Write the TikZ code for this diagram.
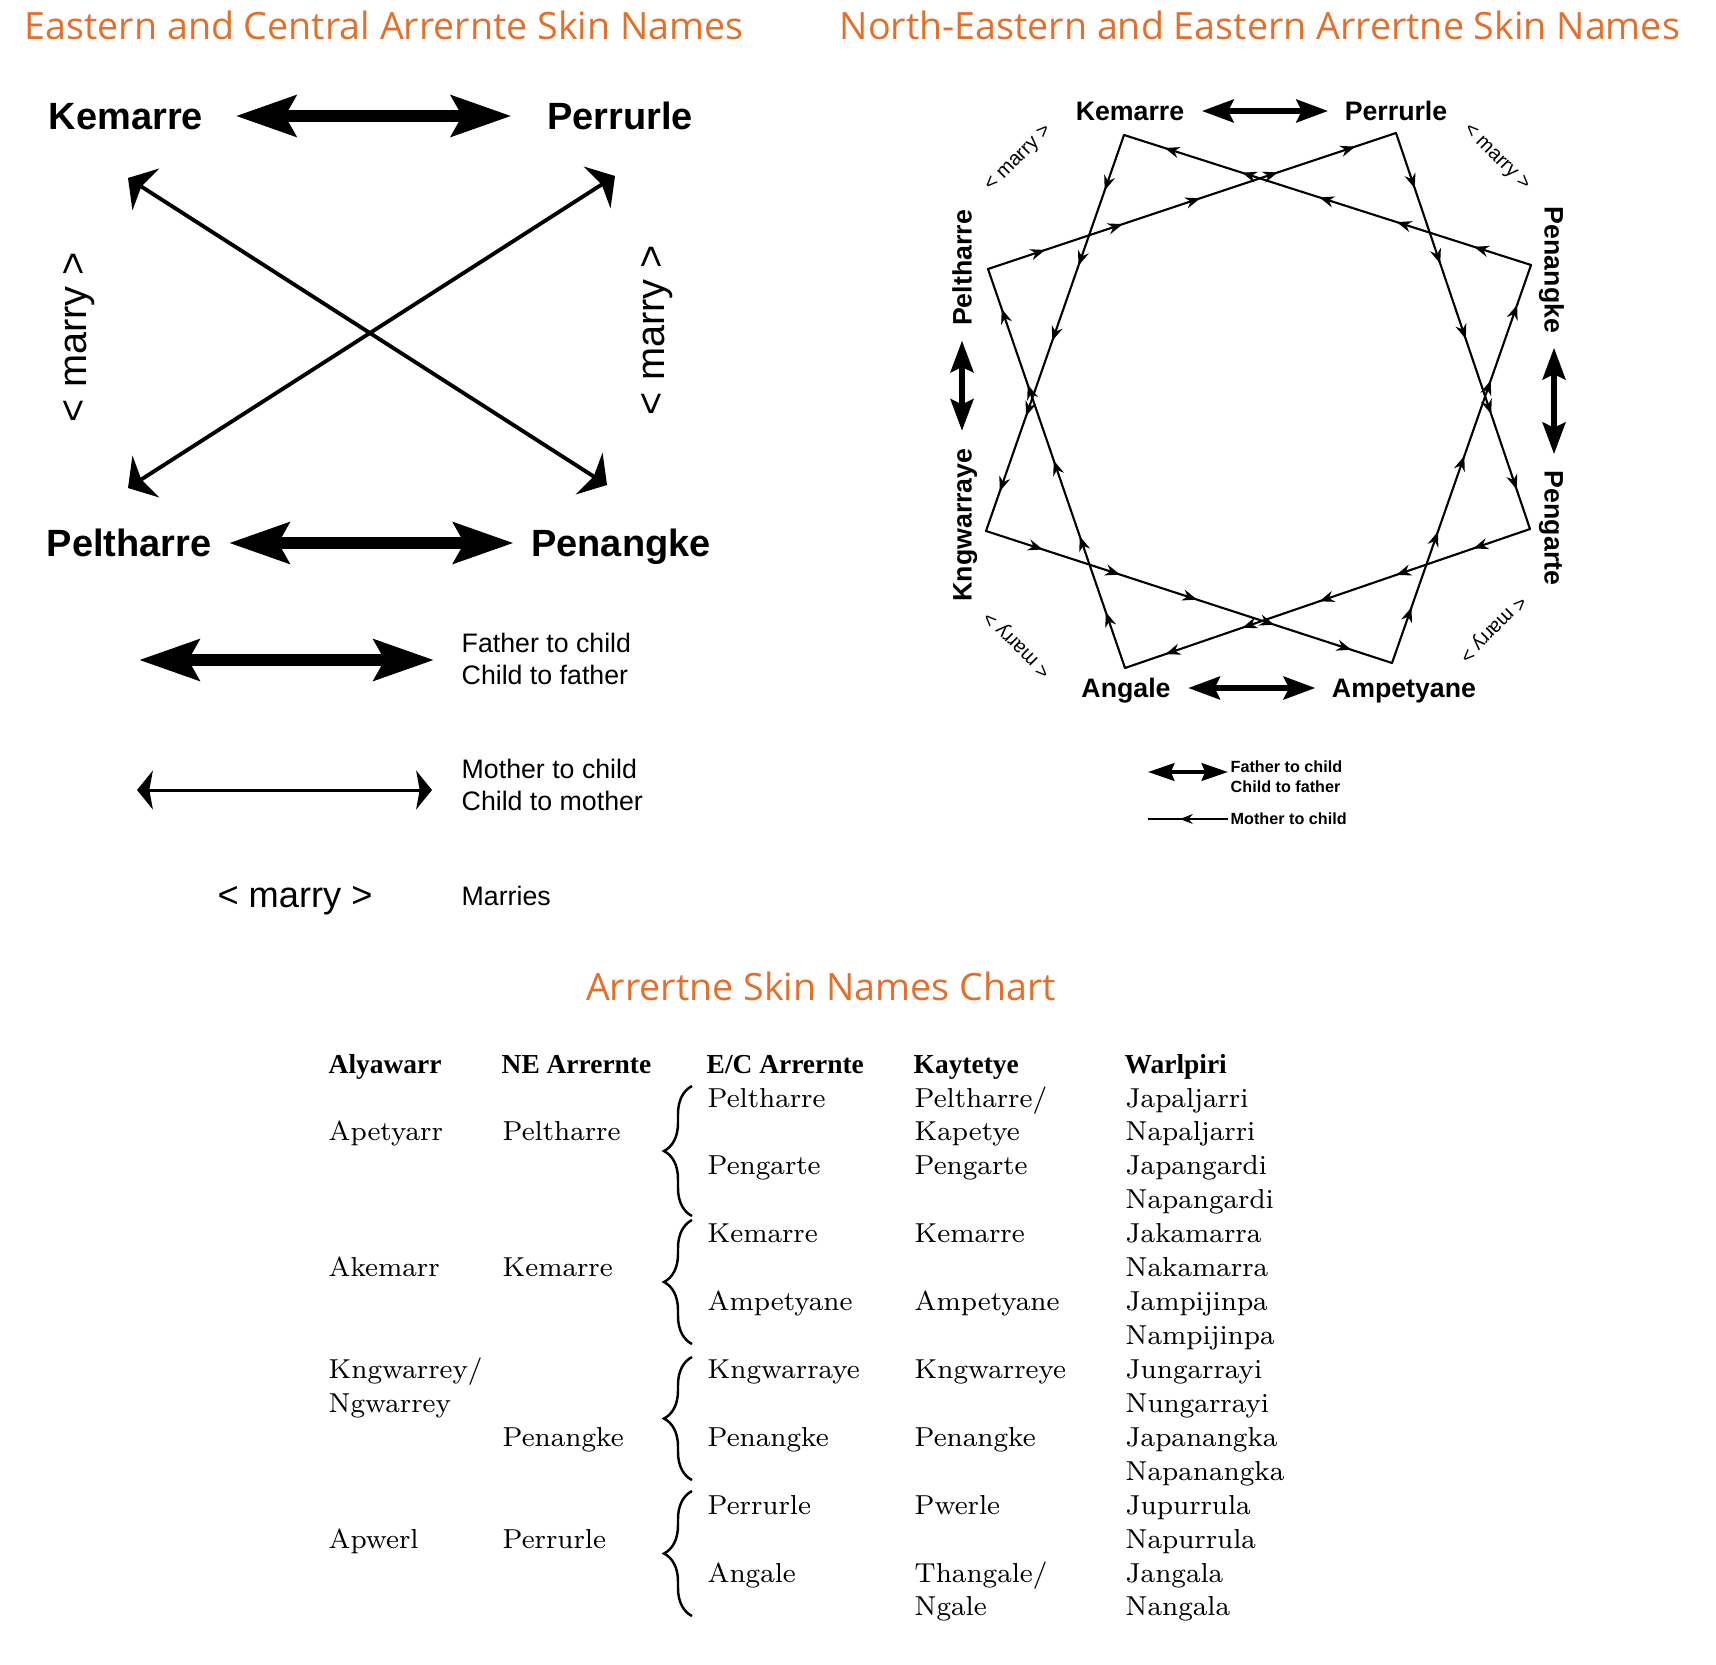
\documentclass[tikz,border=0pt]{standalone}
\usepackage{fontspec}
\usepackage{tikz}
\usetikzlibrary{arrows.meta, positioning, decorations.pathreplacing, decorations.markings}
\newfontfamily\titlefont{Open Sans}
\newfontfamily\scanfont{Liberation Sans}
\newfontfamily\headfont{Liberation Serif}
\definecolor{titleorange}{HTML}{E2702C}

\begin{document}
\begin{tikzpicture}[
    x=0.01cm, y=-0.01cm,
    heading/.style={font=\titlefont\fontsize{10.7}{12}\selectfont, text=titleorange, inner sep=0pt},
    skinbig/.style={font=\scanfont\bfseries\fontsize{10.8}{12}\selectfont, inner sep=0pt, text height=7.7pt, text depth=0pt},
    skinsmall/.style={font=\scanfont\bfseries\fontsize{7.6}{9}\selectfont, inner sep=0pt, text height=5.4pt, text depth=0pt},
    marrybig/.style={font=\scanfont\fontsize{11.3}{13}\selectfont, inner sep=0pt},
    marrysmall/.style={font=\scanfont\fontsize{5.7}{7}\selectfont, inner sep=0pt},
    keytext/.style={font=\scanfont\fontsize{7.6}{9.1}\selectfont, align=left, anchor=west, inner sep=0pt},
    keytiny/.style={font=\scanfont\bfseries\fontsize{4.6}{5.7}\selectfont, align=left, anchor=west, inner sep=0pt},
    fatarrow/.style={line width=3.3pt, {Stealth[length=17pt, width=11.5pt, inset=3pt]}-{Stealth[length=17pt, width=11.5pt, inset=3pt]}},
    crossarrow/.style={line width=1.1pt, {Stealth[length=6pt, width=14pt, inset=1.5pt]}-{Stealth[length=6pt, width=14pt, inset=1.5pt]}},
    momarrow/.style={line width=0.85pt, {Stealth[length=4.5pt, width=11pt, inset=1pt]}-{Stealth[length=4.5pt, width=11pt, inset=1pt]}},
    midfat/.style={line width=1.5pt, {Stealth[length=9pt, width=6.5pt, inset=1.5pt]}-{Stealth[length=9pt, width=6.5pt, inset=1.5pt]}},
    keyfat/.style={line width=1.1pt, {Stealth[length=7.5pt, width=5pt, inset=1pt]}-{Stealth[length=7.5pt, width=5pt, inset=1pt]}},
    momline/.style={line width=0.6pt, line cap=round, postaction={decorate}, decoration={markings,
        mark=between positions 0.14 and 0.91 step 0.19 with {\arrow{Stealth[length=4.2pt, width=3.2pt]}}}},
    keymom/.style={line width=0.6pt, postaction={decorate}, decoration={markings,
        mark=at position 0.6 with {\arrow{Stealth[length=3.6pt, width=2.8pt]}}}},
    cell/.style={anchor=base west, inner sep=0pt, font=\fontsize{7.8}{9}\selectfont},
    colhead/.style={anchor=base west, inner sep=0pt, font=\headfont\bfseries\fontsize{7.8}{9}\selectfont},
    skinbrace/.style={decorate, decoration={brace, amplitude=0.28cm}, line width=0.7pt},
]
    \fill[white] (0,0) rectangle (1716,1664);
    \useasboundingbox (0,0) rectangle (1716,1664);

    % Titles
    \node[heading, anchor=base west] (titleEC) at (24,40) {Eastern and Central Arrernte Skin Names};
    \node[heading, anchor=base west] (titleNE) at (839,40) {North-Eastern and Eastern Arrertne Skin Names};
    \node[heading, anchor=base] (titleChart) at (821,1000) {Arrertne Skin Names Chart};

    % Eastern and Central diagram
    \node[skinbig] (kemL) at (126,116) {Kemarre};
    \node[skinbig] (perL) at (620,116) {Perrurle};
    \node[skinbig] (pelL) at (129,543) {Peltharre};
    \node[skinbig] (penL) at (621,543) {Penangke};
    \draw[fatarrow, shorten <=0.32cm, shorten >=0.35cm] (kemL) -- (perL);
    \draw[fatarrow, shorten <=0.17cm, shorten >=0.17cm] (pelL) -- (penL);

    \coordinate (tipKem) at (128,178);
    \coordinate (tipPen) at (607,485);
    \coordinate (tipPer) at (615,176);
    \coordinate (tipPel) at (128,488);
    \draw[crossarrow] (tipKem) -- (tipPen);
    \draw[crossarrow] (tipPer) -- (tipPel);

    \node[marrybig, rotate=90] (marryW) at (79,337) {< marry >};
    \node[marrybig, rotate=90] (marryE) at (657,330) {< marry >};

    % Key
    \coordinate (fatKeyA) at (139,660);
    \coordinate (fatKeyB) at (434,660);
    \draw[fatarrow] (fatKeyA) -- (fatKeyB);
    \node[keytext] (fatKey) at (461,659) {Father to child\\Child to father};
    \coordinate (momKeyA) at (137,790);
    \coordinate (momKeyB) at (432,790);
    \draw[momarrow] (momKeyA) -- (momKeyB);
    \node[keytext] (momKey) at (461,785) {Mother to child\\Child to mother};
    \node[font=\scanfont\fontsize{10.3}{12}\selectfont, inner sep=0pt] (marryKey) at (295,901) {< marry >};
    \node[keytext] (marriesKey) at (461,896) {Marries};

    % North-Eastern and Eastern diagram
    \node[skinsmall] (kemR) at (1130,111) {Kemarre};
    \node[skinsmall] (perR) at (1396,111) {Perrurle};
    \node[skinsmall] (angR) at (1126,688) {Angale};
    \node[skinsmall] (ampR) at (1404,688) {Ampetyane};
    \node[skinsmall, rotate=90] (pelR) at (962,268) {Peltharre};
    \node[skinsmall, rotate=90] (kngR) at (962,525) {Kngwarraye};
    \node[skinsmall, rotate=-90] (penR) at (1554,270) {Penangke};
    \node[skinsmall, rotate=-90] (pgtR) at (1554,528) {Pengarte};
    \draw[midfat, shorten <=0.17cm, shorten >=0.16cm] (kemR) -- (perR);
    \draw[midfat, shorten <=0.17cm, shorten >=0.16cm] (angR) -- (ampR);
    \draw[midfat, shorten <=0.14cm, shorten >=0.17cm] (pelR) -- (kngR);
    \draw[midfat, shorten <=0.14cm, shorten >=0.16cm] (penR) -- (pgtR);

    \node[marrysmall, rotate=45] (marryNW) at (1019,159) {< marry >};
    \node[marrysmall, rotate=-45] (marryNE) at (1496,158) {< marry >};
    \node[marrysmall, rotate=135] (marrySW) at (1018,644) {< marry >};
    \node[marrysmall, rotate=-135] (marrySE) at (1492,628) {< marry >};

    \coordinate (kemV) at (1124,135);
    \coordinate (perV) at (1396,133);
    \coordinate (penV) at (1531,265);
    \coordinate (pgtV) at (1530,529);
    \coordinate (ampV) at (1392,663);
    \coordinate (angV) at (1125,668);
    \coordinate (kngV) at (986,531);
    \coordinate (pelV) at (988,269);
    % mother to child, two cycles
    \draw[momline] (kemV) -- (kngV);
    \draw[momline] (kngV) -- (ampV);
    \draw[momline] (ampV) -- (penV);
    \draw[momline] (penV) -- (kemV);
    \draw[momline] (perV) -- (pgtV);
    \draw[momline] (pgtV) -- (angV);
    \draw[momline] (angV) -- (pelV);
    \draw[momline] (pelV) -- (perV);

    % Small key
    \coordinate (fatTinyA) at (1148,772);
    \coordinate (fatTinyB) at (1228,772);
    \draw[keyfat] (fatTinyA) -- (fatTinyB);
    \node[keytiny] (fatTiny) at (1230,777) {Father to child\\Child to father};
    \coordinate (momTinyA) at (1228,819);
    \coordinate (momTinyB) at (1148,819);
    \draw[keymom] (momTinyA) -- (momTinyB);
    \node[keytiny] (momTiny) at (1230,819) {Mother to child};

    % Chart
    \node[colhead] (hdAly) at (328,1073) {Alyawarr};
    \node[colhead] (hdNE) at (501,1073) {NE Arrernte};
    \node[colhead] (hdEC) at (706,1073) {E/C Arrernte};
    \node[colhead] (hdKay) at (913,1073) {Kaytetye};
    \node[colhead] (hdWal) at (1124,1073) {Warlpiri};

    \foreach \r/\nm in {1/Apetyarr, 5/Akemarr, 8/Kngwarrey\slash, 9/Ngwarrey, 13/Apwerl}
        \node[cell] (aly\r) at (328,1107+33.93*\r) {\nm};
    \foreach \r/\nm in {1/Peltharre, 5/Kemarre, 10/Penangke, 13/Perrurle}
        \node[cell] (ne\r) at (502,1107+33.93*\r) {\nm};
    \foreach \r/\nm in {0/Peltharre, 2/Pengarte, 4/Kemarre, 6/Ampetyane, 8/Kngwarraye, 10/Penangke, 12/Perrurle, 14/Angale}
        \node[cell] (ec\r) at (707,1107+33.93*\r) {\nm};
    \foreach \r/\nm in {0/Peltharre\slash, 1/Kapetye, 2/Pengarte, 4/Kemarre, 6/Ampetyane, 8/Kngwarreye, 10/Penangke, 12/Pwerle, 14/Thangale\slash, 15/Ngale}
        \node[cell] (kay\r) at (914,1107+33.93*\r) {\nm};
    \foreach \nm [count=\r from 0] in {Japaljarri, Napaljarri, Japangardi, Napangardi, Jakamarra, Nakamarra, Jampijinpa, Nampijinpa, Jungarrayi, Nungarrayi, Japanangka, Napanangka, Jupurrula, Napurrula, Jangala, Nangala}
        \node[cell] (wal\r) at (1125,1107+33.93*\r) {\nm};

    \foreach \top/\bot in {1086/1216, 1220/1344, 1357/1480, 1491/1616}
        \draw[skinbrace] (692,\bot) -- (692,\top);
\end{tikzpicture}
\end{document}
